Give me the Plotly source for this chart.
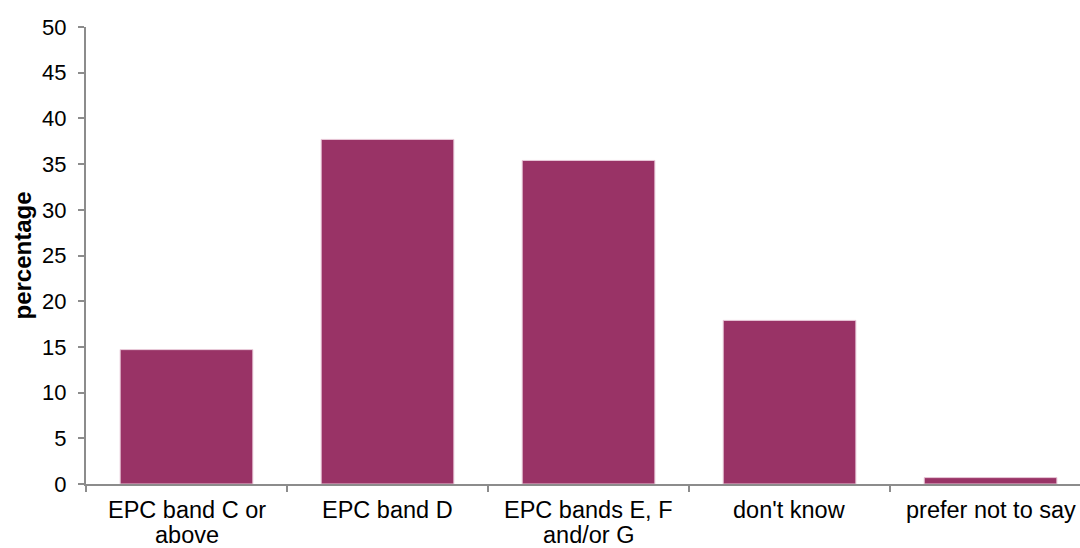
import plotly.graph_objects as go

categories = ["EPC band C or<br>above", "EPC band D", "EPC bands E, F<br>and/or G", "don't know", "prefer not to say"]
values = [14.7, 37.7, 35.4, 17.9, 0.7]
y_ticks = [0, 5, 10, 15, 20, 25, 30, 35, 40, 45, 50]

fig = go.Figure()
fig.add_trace(go.Bar(
    x=categories,
    y=values,
    marker=dict(color="#993366", line=dict(color="#e8c8d8", width=1)),
    width=0.66,
))

axis_color = "#8c8c8c"
font_fam = "Liberation Sans, Arial, sans-serif"

# category labels drawn as annotations (one per line) for tighter line spacing
label_annots = []
for cat in categories:
    for i, line in enumerate(cat.split("<br>")):
        label_annots.append(dict(
            text=line,
            x=cat, xref="x",
            y=0, yref="paper",
            xanchor="center", yanchor="top",
            yshift=-11 - 25 * i,
            showarrow=False,
            font=dict(size=23.5, family=font_fam, color="#000000"),
        ))

fig.update_layout(
    width=1080,
    height=548,
    margin=dict(l=86, r=0, t=27, b=64),
    paper_bgcolor="white",
    plot_bgcolor="white",
    showlegend=False,
    font=dict(family=font_fam, size=21, color="#000000"),
    xaxis=dict(
        range=[-0.5, 4.445],
        automargin=False,
        showline=True,
        linecolor=axis_color,
        linewidth=2,
        ticks="outside",
        tickson="boundaries",
        ticklen=6,
        tickwidth=2,
        tickcolor=axis_color,
        showticklabels=False,
        showgrid=False,
    ),
    yaxis=dict(
        range=[0, 50],
        automargin=False,
        tickvals=y_ticks,
        showline=True,
        linecolor=axis_color,
        linewidth=2,
        ticks="outside",
        ticklen=6,
        tickwidth=2,
        tickcolor=axis_color,
        ticklabelstandoff=7,
        showgrid=False,
        zeroline=False,
        tickfont=dict(size=22, family=font_fam, color="#000000"),
    ),
    annotations=[dict(
        text="<b>percentage</b>",
        xref="paper", yref="paper",
        x=-0.0634, y=0.5,
        xanchor="center", yanchor="middle",
        textangle=-90,
        showarrow=False,
        font=dict(size=24, family=font_fam, color="#000000"),
    )] + label_annots,
)

# remove the default page margin and scrollbars so the figure fills the window exactly
fig.write_html(
    "out.html",
    config={"displayModeBar": False},
    post_script="document.body.style.margin='0';document.documentElement.style.overflow='hidden';document.body.style.overflow='hidden';",
)
